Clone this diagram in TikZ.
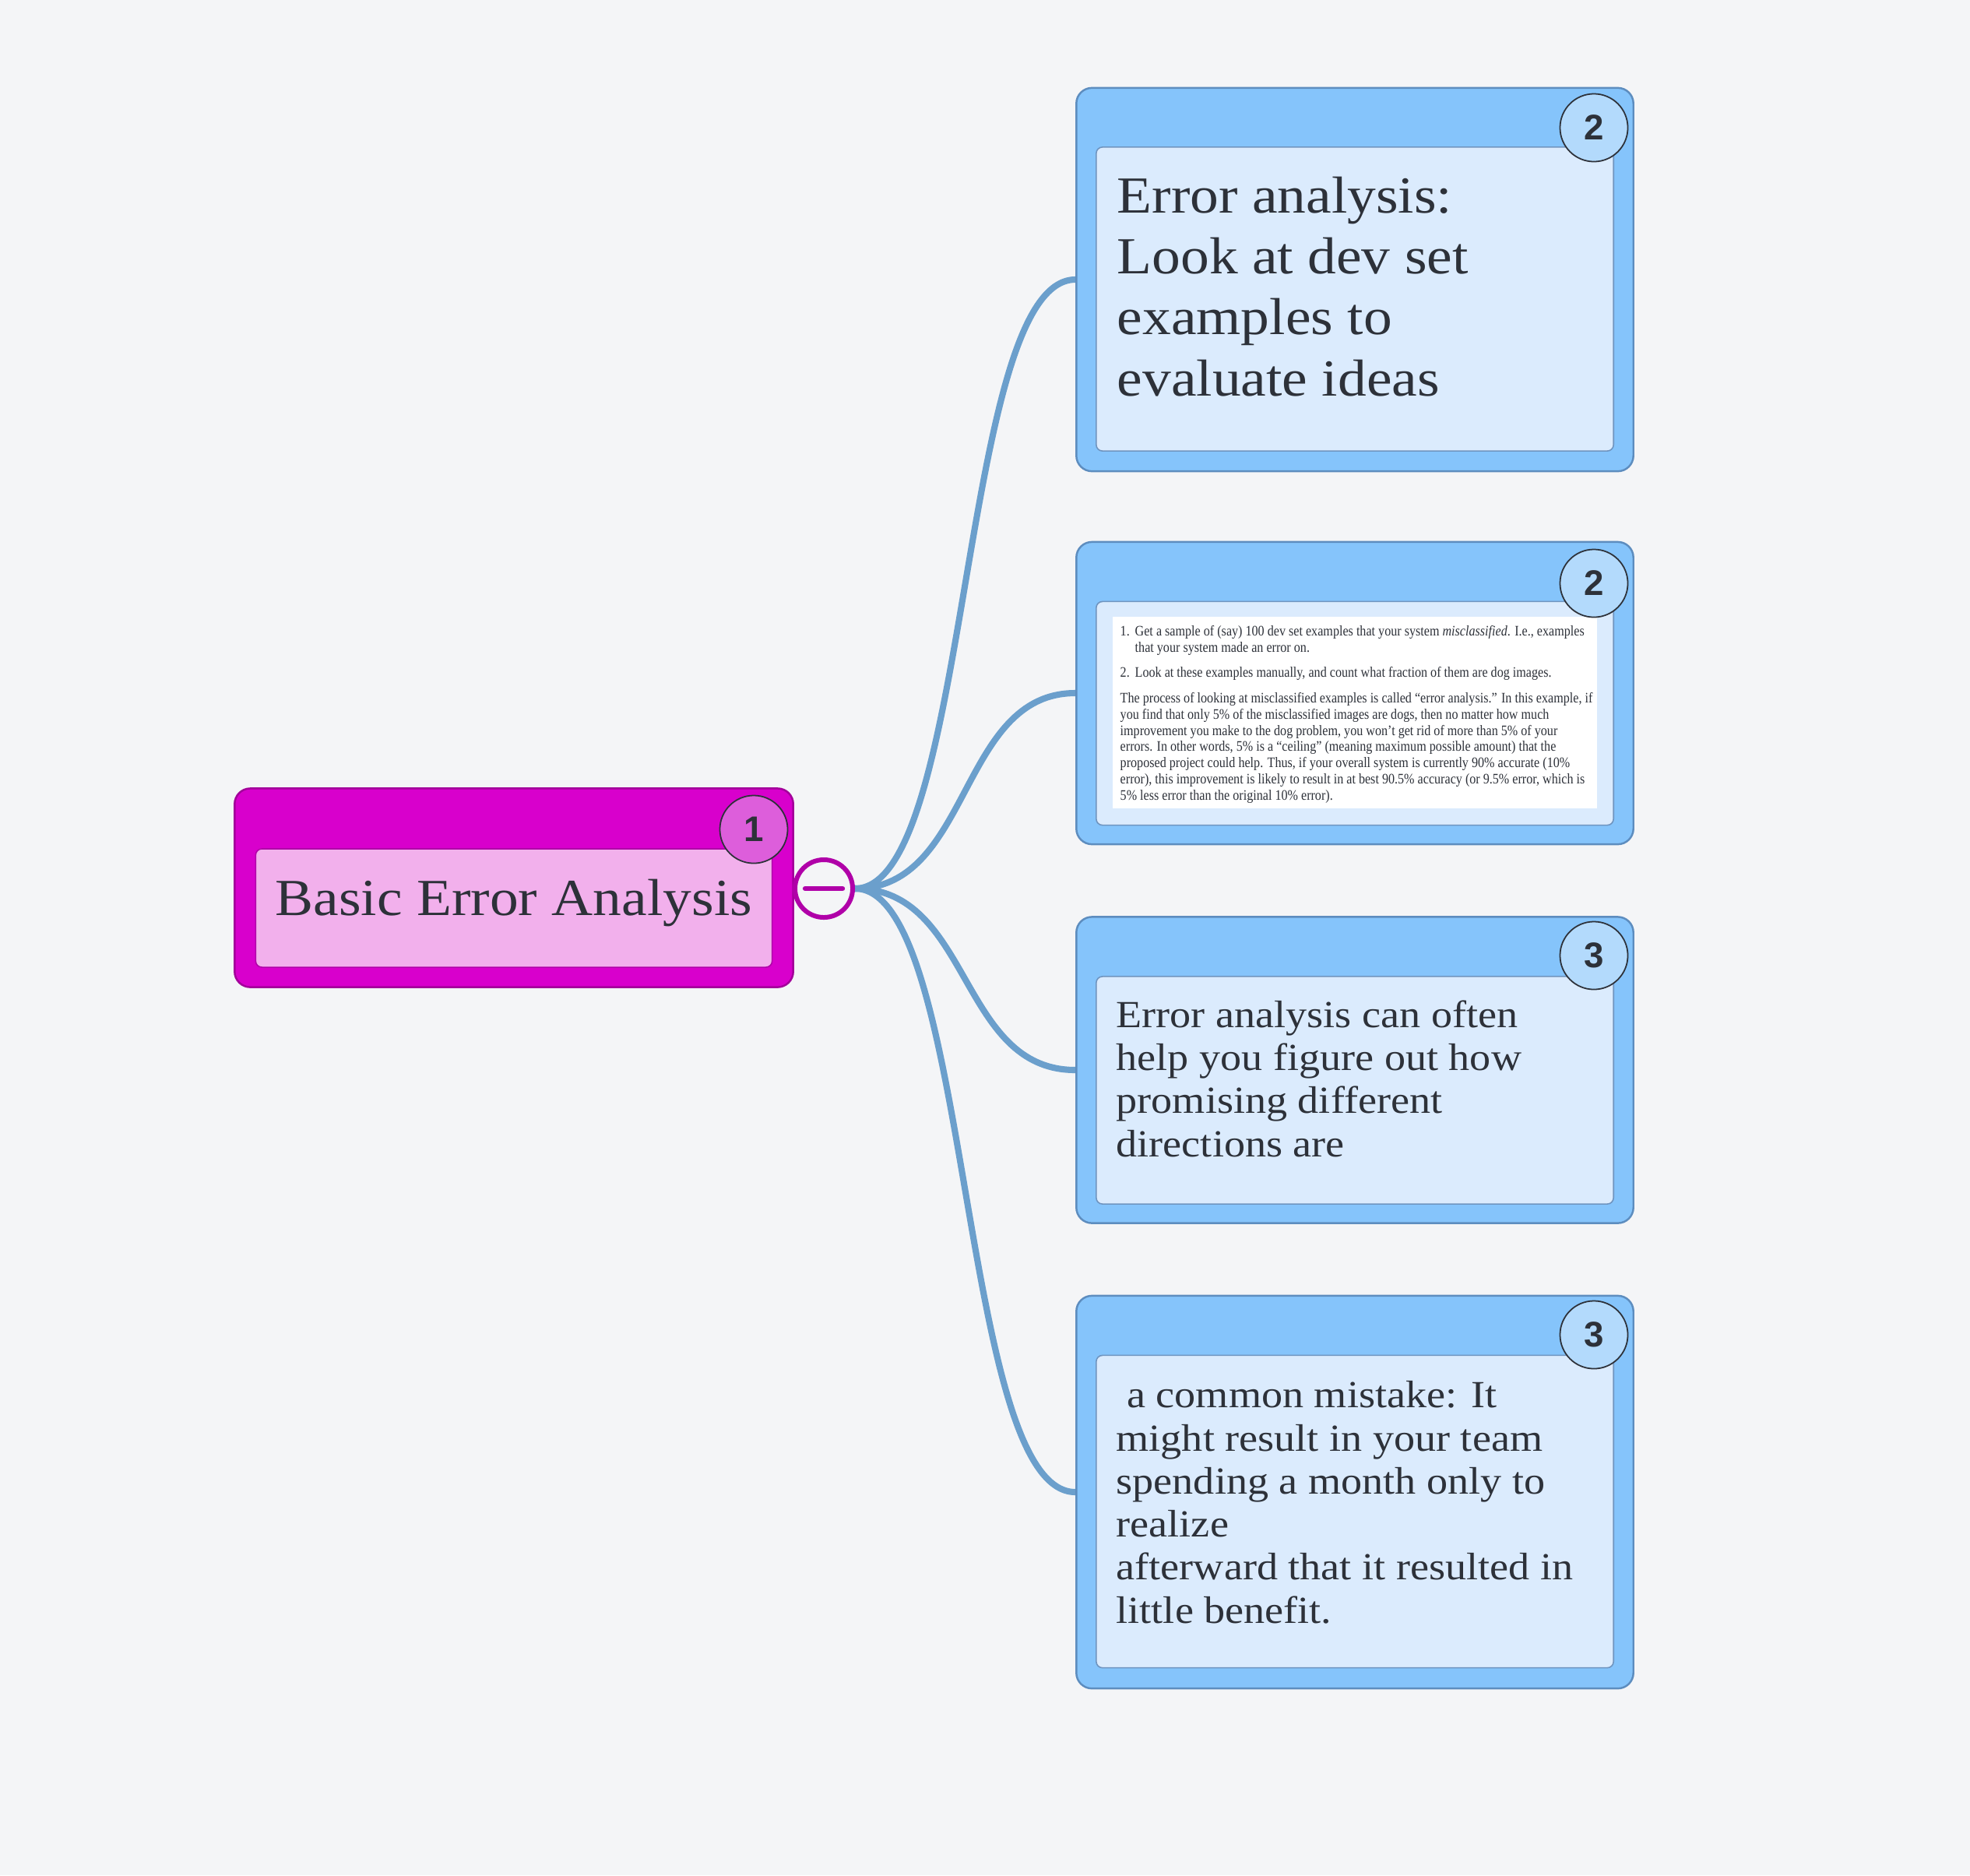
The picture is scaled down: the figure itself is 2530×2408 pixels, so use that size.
\documentclass[tikz,border=0pt]{standalone}
\usepackage{fontspec}
\setmainfont{Liberation Serif}
\newfontfamily\mapfont[FakeStretch=1.1]{Liberation Serif}
\newfontfamily\clipfont[FakeStretch=0.865]{Liberation Serif}
\newfontfamily\numfont{Liberation Sans}
\usetikzlibrary{backgrounds}
\definecolor{bgcol}{HTML}{F4F5F7}
\definecolor{txtcol}{HTML}{2D3139}
\definecolor{rootfill}{HTML}{D800CC}
\definecolor{rootline}{HTML}{A3009A}
\definecolor{rootinner}{HTML}{F2B0EC}
\definecolor{rootbadge}{HTML}{DD5EDB}
\definecolor{togcol}{HTML}{B000A8}
\definecolor{linkcol}{HTML}{6B9FCC}
\definecolor{boxfill}{HTML}{85C4FB}
\definecolor{boxline}{HTML}{5D8DBF}
\definecolor{innerfill}{HTML}{DBEBFD}
\definecolor{innerline}{HTML}{6F94BF}
\definecolor{badgefill}{HTML}{B3DAFC}
\newlength{\numw}\setlength{\numw}{5.4pt}
\begin{document}
\begin{tikzpicture}[x=0.01cm, y=-0.01cm, line join=round, line cap=round,
	box/.style={draw=boxline, fill=boxfill, line width=0.7pt, rounded corners=5.7pt, minimum width=7.15cm},
	inbox/.style={draw=innerline, fill=innerfill, line width=0.45pt, rounded corners=2.3pt, minimum width=6.64cm},
	badge/.style={circle, draw=txtcol, fill=badgefill, line width=0.5pt, minimum size=0.87cm, inner sep=0pt, text=txtcol, font=\numfont\bfseries\fontsize{13}{13}\selectfont},
	txt/.style={anchor=base west, inner sep=0pt, align=left, text=txtcol},
	link/.style={draw=linkcol, line width=2.3pt}]
	\useasboundingbox (0,0) rectangle (2530,2408);
	% root
	\node[box, draw=rootline, fill=rootfill, minimum width=7.17cm, minimum height=2.55cm] (root) at (660,1140) {};
	\node[inbox, draw=togcol, fill=rootinner, minimum width=6.63cm, minimum height=1.52cm] (rootin) at (660,1166) {};
	\node[txt, font=\mapfont\fontsize{19}{22}\selectfont] (roottxt) at (353,1175) {Basic Error Analysis};
	\node[badge, fill=rootbadge] (rootnum) at (968,1065) {1};
	\node[circle, draw=togcol, fill=bgcol, line width=1.7pt, minimum size=0.74cm] (tog) at (1058,1141) {};
	\draw[togcol, line width=1.8pt] ([xshift=-0.24cm]tog.center) -- ([xshift=0.24cm]tog.center);
	% children (text nodes sit on the baseline of their last line)
	\node[box, minimum height=4.92cm] (A) at (1740,359) {};
	\node[inbox, minimum height=3.90cm] (Ain) at (1740,384) {};
	\node[txt, font=\mapfont\fontsize{19}{22.2}\selectfont] (Atxt) at (1434,508) {Error analysis:\\Look at dev set\\examples to\\evaluate ideas};
	\node[badge] (Anum) at (2047,164) {2};
	\node[box, minimum height=3.88cm] (B) at (1740,890) {};
	\node[inbox, minimum height=2.87cm] (Bin) at (1740,916) {};
	\node[fill=white, minimum width=6.22cm, minimum height=2.46cm] (Bclip) at (1740,915) {};
	\node[txt, font=\clipfont\fontsize{5.3}{5.9}\selectfont] (Btxt) at (1438,1027) {\makebox[\numw][l]{1.}Get a sample of (say) 100 dev set examples that your system \textit{misclassified}. I.e., examples\\
		\hspace*{\numw}that your system made an error on.\\[3.3pt]
		\makebox[\numw][l]{2.}Look at these examples manually, and count what fraction of them are dog images.\\[3.5pt]
		The process of looking at misclassified examples is called “error analysis.” In this example, if\\
		you find that only 5\% of the misclassified images are dogs, then no matter how much\\
		improvement you make to the dog problem, you won’t get rid of more than 5\% of your\\
		errors. In other words, 5\% is a “ceiling” (meaning maximum possible amount) that the\\
		proposed project could help. Thus, if your overall system is currently 90\% accurate (10\%\\
		error), this improvement is likely to result in at best 90.5\% accuracy (or 9.5\% error, which is\\
		5\% less error than the original 10\% error).};
	\node[badge] (Bnum) at (2047,749) {2};
	\node[box, minimum height=3.93cm] (C) at (1740,1374) {};
	\node[inbox, minimum height=2.92cm] (Cin) at (1740,1400) {};
	\node[txt, font=\mapfont\fontsize{14}{15.7}\selectfont] (Ctxt) at (1433,1485) {Error analysis can often\\help you figure out how\\promising different\\directions are};
	\node[badge] (Cnum) at (2047,1227) {3};
	\node[box, minimum height=5.04cm] (D) at (1740,1916) {};
	\node[inbox, minimum height=4.01cm] (Din) at (1740,1941) {};
	\node[txt, font=\mapfont\fontsize{14}{15.7}\selectfont] (Dtxt) at (1433,2084) {\ a common mistake: It\\might result in your team\\spending a month only to\\realize\\afterward that it resulted in\\little benefit.};
	\node[badge] (Dnum) at (2047,1714) {3};
	\begin{scope}[on background layer]
		\fill[bgcol] (0,0) rectangle (2530,2408);
		\foreach \n in {A,B,C,D}
			\draw[link] (tog.east) .. controls +(150,0) and +(-150,0) .. (\n.west);
	\end{scope}
\end{tikzpicture}
\end{document}
